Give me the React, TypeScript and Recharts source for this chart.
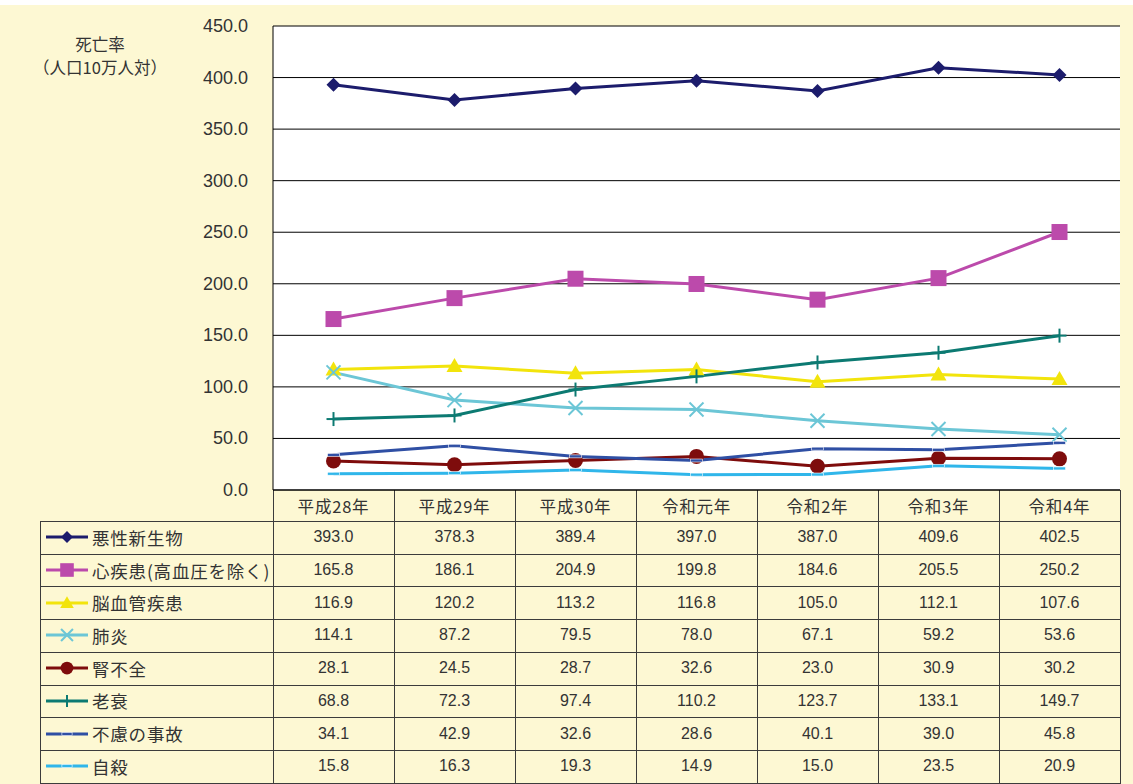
import React from 'react';
import { LineChart, Line, XAxis, YAxis, CartesianGrid } from 'recharts';

const categories = ['平成28年', '平成29年', '平成30年', '令和元年', '令和2年', '令和3年', '令和4年'];
const malignant = [393.0, 378.3, 389.4, 397.0, 387.0, 409.6, 402.5];
const heart = [165.8, 186.1, 204.9, 199.8, 184.6, 205.5, 250.2];
const cerebro = [116.9, 120.2, 113.2, 116.8, 105.0, 112.1, 107.6];
const pneumonia = [114.1, 87.2, 79.5, 78.0, 67.1, 59.2, 53.6];
const renal = [28.1, 24.5, 28.7, 32.6, 23.0, 30.9, 30.2];
const senility = [68.8, 72.3, 97.4, 110.2, 123.7, 133.1, 149.7];
const accident = [34.1, 42.9, 32.6, 28.6, 40.1, 39.0, 45.8];
const suicide = [15.8, 16.3, 19.3, 14.9, 15.0, 23.5, 20.9];
const seriesNames = ['悪性新生物', '心疾患(高血圧を除く)', '脳血管疾患', '肺炎', '腎不全', '老衰', '不慮の事故', '自殺'];
const yTicks = [0, 50, 100, 150, 200, 250, 300, 350, 400, 450];
const yTitle = ['死亡率', '（人口10万人対）'];

const seriesValues = [malignant, heart, cerebro, pneumonia, renal, senility, accident, suicide];
const seriesStyles = [
  { color: '#1c1c6c', shape: 'diamond' },
  { color: '#bc4aab', shape: 'square' },
  { color: '#f2e40c', shape: 'triangle' },
  { color: '#6cc6d6', shape: 'x' },
  { color: '#7e0c0c', shape: 'circle' },
  { color: '#0c7a72', shape: 'plus' },
  { color: '#2f4fa4', shape: 'dash' },
  { color: '#30b6ea', shape: 'dash' },
];

const chartData = categories.map((c, i) => {
  const row: any = { cat: c };
  seriesValues.forEach((vals, s) => {
    row['s' + s] = vals[i];
  });
  return row;
});

const JP = '"Noto Sans CJK JP", "Noto Sans", sans-serif';
const NUM = '"Liberation Sans", Arial, sans-serif';
const TXT = '#333';

function Marker({ shape, color, cx, cy, k = 1 }: any) {
  if (cx == null || cy == null) return null;
  switch (shape) {
    case 'diamond': {
      const h = 7 * k;
      return <polygon points={`${cx},${cy - h} ${cx + h},${cy} ${cx},${cy + h} ${cx - h},${cy}`} fill={color} />;
    }
    case 'square': {
      const h = 8 * k;
      return <rect x={cx - h} y={cy - h} width={2 * h} height={2 * h} fill={color} />;
    }
    case 'triangle': {
      const h = 8 * k;
      return <polygon points={`${cx},${cy - h} ${cx + h},${cy + h * 0.75} ${cx - h},${cy + h * 0.75}`} fill={color} />;
    }
    case 'x': {
      const h = 7 * k;
      return (
        <g stroke={color} strokeWidth={2}>
          <line x1={cx - h} y1={cy - h} x2={cx + h} y2={cy + h} />
          <line x1={cx - h} y1={cy + h} x2={cx + h} y2={cy - h} />
        </g>
      );
    }
    case 'circle':
      return <circle cx={cx} cy={cy} r={7.5 * k} fill={color} />;
    case 'plus': {
      const h = 7 * k;
      return (
        <g stroke={color} strokeWidth={2}>
          <line x1={cx} y1={cy - h} x2={cx} y2={cy + h} />
          <line x1={cx - h} y1={cy} x2={cx + h} y2={cy} />
        </g>
      );
    }
    case 'dash': {
      const h = 6 * k;
      return <rect x={cx - h} y={cy - 1.5} width={2 * h} height={3} fill={color} stroke="#ffffff" strokeWidth={0.6} />;
    }
    default:
      return null;
  }
}

const YTick = (props: any) => {
  const { x, y, payload } = props;
  return (
    <text x={x - 25} y={y} textAnchor="end" dominantBaseline="central" fontFamily={NUM} fontSize={18} fill={TXT}>
      {Number(payload.value).toFixed(1)}
    </text>
  );
};

const XTick = (props: any) => {
  const { x, y, payload } = props;
  return (
    <text x={x} y={y + 16} textAnchor="middle" dominantBaseline="central" fontFamily={JP} fontSize={16.5} fill={TXT} letterSpacing={0.8}>
      {payload.value}
    </text>
  );
};

const PLOT_LEFT = 273;
const PLOT_RIGHT = 1120;
const PLOT_TOP = 26;
const PLOT_BOTTOM = 490;
const HEADER_BOTTOM = 521;
const ROW_H = 32.7;
const TABLE_LEFT = 40;
const COL_W = (PLOT_RIGHT - PLOT_LEFT) / categories.length;
const BORDER = '1px solid #3c3c3c';

function DataTable() {
  const cells: any[] = [];
  cells.push(
    <div
      key="hdr"
      style={{
        position: 'absolute',
        left: PLOT_LEFT,
        top: PLOT_BOTTOM,
        width: PLOT_RIGHT - PLOT_LEFT + 1,
        height: HEADER_BOTTOM - PLOT_BOTTOM,
        borderLeft: BORDER,
        borderRight: BORDER,
        boxSizing: 'border-box',
      }}
    />
  );
  for (let c = 1; c < categories.length; c++) {
    cells.push(
      <div
        key={'hv' + c}
        style={{ position: 'absolute', left: PLOT_LEFT + c * COL_W, top: PLOT_BOTTOM, width: 0, height: HEADER_BOTTOM - PLOT_BOTTOM + seriesNames.length * ROW_H, borderLeft: BORDER }}
      />
    );
  }
  cells.push(
    <div
      key="outer"
      style={{
        position: 'absolute',
        left: TABLE_LEFT,
        top: HEADER_BOTTOM,
        width: PLOT_RIGHT - TABLE_LEFT + 1,
        height: seriesNames.length * ROW_H + 1,
        border: BORDER,
        boxSizing: 'border-box',
      }}
    />
  );
  cells.push(
    <div key="firstcol" style={{ position: 'absolute', left: PLOT_LEFT, top: HEADER_BOTTOM, width: 0, height: seriesNames.length * ROW_H, borderLeft: BORDER }} />
  );
  seriesNames.forEach((name, r) => {
    const top = HEADER_BOTTOM + r * ROW_H;
    if (r > 0) {
      cells.push(
        <div key={'hl' + r} style={{ position: 'absolute', left: TABLE_LEFT, top, width: PLOT_RIGHT - TABLE_LEFT, height: 0, borderTop: BORDER }} />
      );
    }
    const st = seriesStyles[r];
    cells.push(
      <div key={'lab' + r} style={{ position: 'absolute', left: TABLE_LEFT + 1, top, width: PLOT_LEFT - TABLE_LEFT - 1, height: ROW_H, display: 'flex', alignItems: 'center' }}>
        <svg width={48} height={20} style={{ display: 'block', marginLeft: 3 }}>
          <line x1={2} y1={10} x2={44} y2={10} stroke={st.color} strokeWidth={3} />
          <Marker shape={st.shape} color={st.color} cx={23} cy={10} k={0.85} />
        </svg>
        <span style={{ fontFamily: JP, fontSize: 17.5, color: TXT, letterSpacing: 0.8, whiteSpace: 'nowrap' }}>{name}</span>
      </div>
    );
    seriesValues[r].forEach((v, c) => {
      cells.push(
        <div
          key={'v' + r + '-' + c}
          style={{
            position: 'absolute',
            left: PLOT_LEFT + c * COL_W,
            top,
            width: COL_W,
            height: ROW_H,
            display: 'flex',
            alignItems: 'center',
            justifyContent: 'center',
            fontFamily: NUM,
            fontSize: 16,
            color: TXT,
          }}
        >
          {v.toFixed(1)}
        </div>
      );
    });
  });
  return <>{cells}</>;
}

export default function App() {
  return (
    <div style={{ position: 'absolute', left: 0, top: 0, width: 1133, height: 784, background: '#ffffff', overflow: 'hidden' }}>
      <div style={{ position: 'absolute', left: 0, top: 5, width: 1133, height: 779, background: '#fdf8d3' }} />
      <DataTable />
      <div style={{ position: 'absolute', left: 0, top: 0 }}>
        <LineChart
          width={1133}
          height={784}
          data={chartData}
          margin={{ top: PLOT_TOP, right: 1133 - PLOT_RIGHT, bottom: 784 - PLOT_BOTTOM - 31, left: 0 }}
        >
          <CartesianGrid vertical={false} horizontal stroke="#000" strokeWidth={1} fill="#ffffff" fillOpacity={1} horizontalValues={yTicks} />
          <XAxis
            dataKey="cat"
            height={31}
            padding={{ left: COL_W / 2, right: COL_W / 2 }}
            tickLine={false}
            axisLine={{ stroke: '#000' }}
            tickSize={0}
            tickMargin={0}
            tick={<XTick />}
            interval={0}
          />
          <YAxis
            width={PLOT_LEFT}
            domain={[0, 450]}
            ticks={yTicks}
            tickLine={false}
            tickSize={0}
            tickMargin={0}
            axisLine={{ stroke: '#000' }}
            tick={<YTick />}
            allowDataOverflow
          />
          <YAxis yAxisId="r" orientation="right" width={0} domain={[0, 450]} tick={false} tickLine={false} axisLine={{ stroke: '#000' }} />
          {seriesStyles.map((st, s) => (
            <Line
              key={s}
              type="linear"
              dataKey={'s' + s}
              name={seriesNames[s]}
              stroke={st.color}
              strokeWidth={3}
              isAnimationActive={false}
              dot={(p: any) => <Marker key={'d' + s + '-' + p.index} shape={st.shape} color={st.color} cx={p.cx} cy={p.cy} />}
              activeDot={false}
            />
          ))}
        </LineChart>
      </div>
      <div style={{ position: 'absolute', left: 0, top: 33, width: 200, textAlign: 'center', fontFamily: JP, fontSize: 16.5, color: TXT, lineHeight: '23px' }}>
        {yTitle.map((t) => (
          <div key={t}>{t}</div>
        ))}
      </div>
    </div>
  );
}
